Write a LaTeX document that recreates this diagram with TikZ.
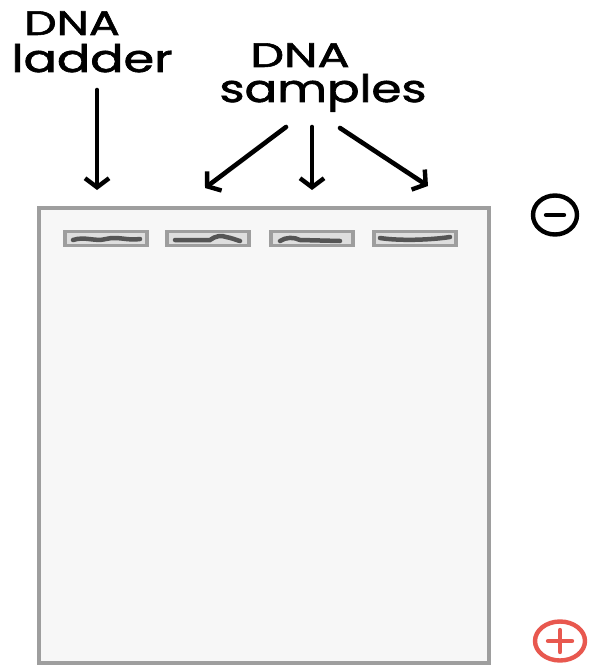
\documentclass[tikz,border=0pt]{standalone}
\usepackage{fontspec}
\setmainfont{Poppins}
\newfontfamily\hand{Poppins}[FakeBold=1.6]
\usetikzlibrary{arrows.meta,shapes.geometric}
\definecolor{gelfill}{HTML}{F7F7F7}
\definecolor{gelline}{HTML}{9E9E9E}
\definecolor{wellfill}{HTML}{DEDEDE}
\definecolor{bandcol}{HTML}{555555}
\definecolor{plusred}{HTML}{E8584F}
\tikzset{
  gel/.style={draw=gelline, fill=gelfill, line width=4pt},
  well/.style={draw=gelline, fill=wellfill, line width=3.5pt, minimum width=82pt, minimum height=14pt, inner sep=0pt},
  band/.style={draw=bandcol, line width=4.5pt, line cap=round},
  lbl/.style={font=\fontsize{34}{34}\selectfont\hand, inner sep=0pt, anchor=base},
  ptr/.style={line width=4.6pt, line cap=round, -{Straight Barb[length=9pt,width=24pt,line width=4.4pt]}},
  pole/.style={draw, line width=4.4pt, ellipse, minimum width=44pt, minimum height=39pt}
}
\begin{document}
\begin{tikzpicture}[x=1pt,y=-1pt]
\useasboundingbox (0,0) rectangle (592,666);
\node[gel, minimum width=450pt, minimum height=455pt, anchor=north west, inner sep=0pt] (gel) at (37,206) {};
\node[well] (w1) at (106,238.5) {};
\node[well] (w2) at (208,238.5) {};
\node[well] (w3) at (312,238.5) {};
\node[well] (w4) at (415,238.5) {};
% bands
\draw[band] (73,240) .. controls (85,236) and (95,242) .. (106,239) .. controls (118,236) and (128,241) .. (140,239);
\draw[band] (175,240) -- (210,240) .. controls (215,236) and (222,235) .. (226,237) .. controls (232,238) and (236,240) .. (240,241);
\draw[band] (280,241) .. controls (286,237) and (294,237) .. (300,240) -- (340,241);
\draw[band] (380,238) .. controls (400,241) and (430,240) .. (450,237);
% labels
\node[lbl, xscale=1.35] (dna1) at (72,35) {DNA};
\node[lbl, xscale=1.45, yscale=1.12] (ladder) at (92,72) {ladder};
\node[lbl, xscale=1.4] (dna2) at (300,67) {DNA};
\node[lbl, xscale=1.42, yscale=1.12] (samples) at (323,102) {samples};
% arrows
\coordinate (la) at (97,90);
\coordinate (lb) at (97,190);
\draw[ptr] (la) -- (lb);
\coordinate (s1a) at (286,127);
\coordinate (s1b) at (205,188);
\coordinate (s2a) at (312,127);
\coordinate (s2b) at (312,190);
\coordinate (s3a) at (340,128);
\coordinate (s3b) at (428,186);
\draw[ptr] (s1a) -- (s1b);
\draw[ptr] (s2a) -- (s2b);
\draw[ptr] (s3a) -- (s3b);
% poles
\node[pole] (minus) at (555,215) {};
\draw[line width=4.4pt, line cap=round] ([xshift=-9pt]minus.center) -- ([xshift=9pt]minus.center);
\node[pole, draw=plusred, minimum width=50pt] (plus) at (560,641) {};
\draw[plusred, line width=4.4pt, line cap=round] ([xshift=-12pt]plus.center) -- ([xshift=12pt]plus.center);
\draw[plusred, line width=4.4pt, line cap=round] ([yshift=-11pt]plus.center) -- ([yshift=11pt]plus.center);
\end{tikzpicture}
\end{document}
